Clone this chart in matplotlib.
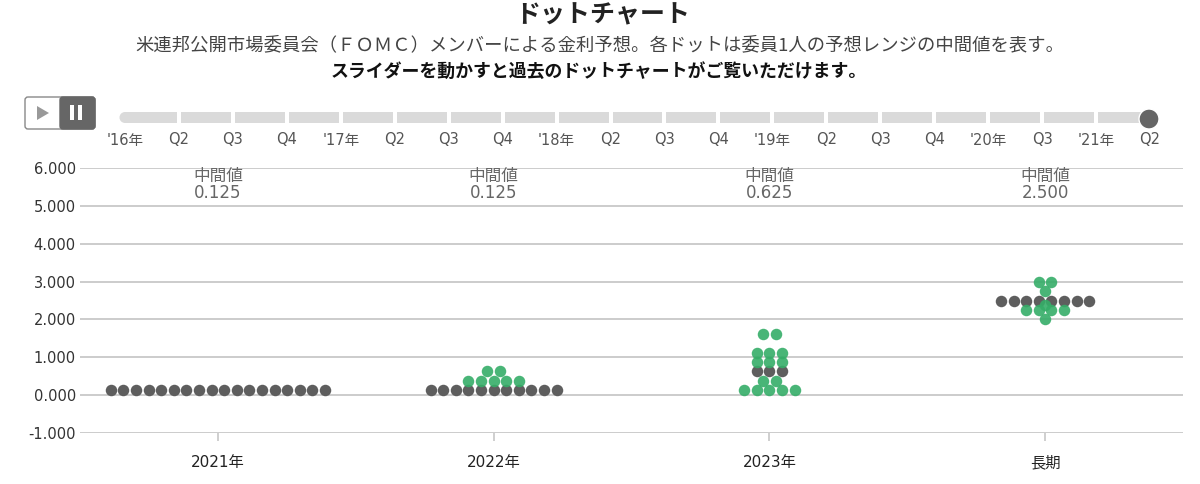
import numpy as np
import matplotlib
matplotlib.use("Agg")
import matplotlib.pyplot as plt
from matplotlib.patches import Rectangle, Circle, FancyBboxPatch, Polygon
from collections import Counter

plt.rcParams['font.family'] = ['Noto Sans CJK JP', 'DejaVu Sans']

# ---------------- data ----------------
categories = ["2021年", "2022年", "2023年", "長期"]
dots_2021 = [0.125] * 18
dots_2022 = [0.125] * 11 + [0.375] * 5 + [0.625] * 2
dots_2023 = [0.125] * 5 + [0.375] * 2 + [0.625] * 3 + [0.875] * 3 + [1.125] * 3 + [1.625] * 2
dots_long = [2.0] * 1 + [2.25] * 4 + [2.375] * 1 + [2.5] * 8 + [2.75] * 1 + [3.0] * 2
series = [dots_2021, dots_2022, dots_2023, dots_long]

y_ticks = [-1, 0, 1, 2, 3, 4, 5, 6]
slider_labels = ["'16年", "Q2", "Q3", "Q4", "'17年", "Q2", "Q3", "Q4", "'18年", "Q2",
                 "Q3", "Q4", "'19年", "Q2", "Q3", "Q4", "'20年", "Q3", "'21年", "Q2"]

title = "ドットチャート"
subtitle1 = "米連邦公開市場委員会（ＦＯＭＣ）メンバーによる金利予想。各ドットは委員1人の予想レンジの中間値を表す。"
subtitle2 = "スライダーを動かすと過去のドットチャートがご覧いただけます。"

# ---------------- style ----------------
W, H = 1200, 484
GRAY_DOT = "#5e5e5e"
GREEN_DOT = "#35ad68"
GRID = "#cccccc"

fig = plt.figure(figsize=(W / 100, H / 100), dpi=100)

ax_l, ax_r, ax_t, ax_b = 80, 1183, 168, 433
ax = fig.add_axes([ax_l / W, (H - ax_b) / H, (ax_r - ax_l) / W, (ax_b - ax_t) / H])
ax.set_xlim(-0.5, len(categories) - 0.5)
ax.set_ylim(-1, 6)
for s in ax.spines.values():
    s.set_visible(False)
for v in y_ticks:
    ax.axhline(v, color=GRID, lw=1.4, zorder=1)
ax.set_yticks(y_ticks)
ax.set_yticklabels([f"{v:.3f}" for v in y_ticks], fontsize=10.5, color="#333333",
                   family=['DejaVu Sans'])
ax.tick_params(axis='y', length=0, pad=3)
ax.set_xticks(range(len(categories)))
ax.set_xticklabels(categories, fontsize=11, color="#222222",
                   family=['DejaVu Sans', 'Noto Sans CJK JP'])
ax.tick_params(axis='x', length=6, width=1.3, color=GRID, pad=10)

band_px = (ax_r - ax_l) / len(categories)
spacing = 12.6 / band_px
dot_d_pt = 11.5 * 72 / 100
s_size = dot_d_pt ** 2

for i, vals in enumerate(series):
    med = float(np.median(vals))
    counts = Counter(vals)
    for v in sorted(counts):
        n = counts[v]
        xs = i + (np.arange(n) - (n - 1) / 2) * spacing
        ys = np.full(n, v)
        if v == med:
            ax.scatter(xs, ys, s=s_size, color=GRAY_DOT, linewidths=0, zorder=3)
        else:
            ax.scatter(xs, ys, s=s_size, color=GREEN_DOT, alpha=0.9, linewidths=0, zorder=4)
    ax.text(i, 5.78, "中間値", ha='center', va='center', fontsize=12, color="#666666")
    ax.text(i, 5.33, f"{med:.3f}", ha='center', va='center', fontsize=12, color="#666666",
            family=['DejaVu Sans'])

# ---------------- overlay (titles + slider) ----------------
ov = fig.add_axes([0, 0, 1, 1])
ov.set_xlim(0, W)
ov.set_ylim(H, 0)
ov.axis('off')
ov.patch.set_alpha(0)

ov.text(603, 15, title, ha='center', va='center', fontsize=18, fontweight='bold', color="#222222")
ov.text(600, 45, subtitle1, ha='center', va='center', fontsize=13.2, color="#444444")
ov.text(599, 72, subtitle2, ha='center', va='center', fontsize=12.9, fontweight='bold',
        color="#111111")

# play / pause buttons
ov.add_patch(FancyBboxPatch((25, 97), 70, 32, boxstyle="round,pad=0,rounding_size=3",
                            facecolor="white", edgecolor="#888888", lw=1))
ov.add_patch(FancyBboxPatch((60, 97), 35, 32, boxstyle="round,pad=0,rounding_size=3",
                            facecolor="#666666", edgecolor="#666666", lw=1))
ov.add_patch(Polygon([(37, 106), (37, 120), (49, 113)], closed=True, facecolor="#999999",
                     edgecolor="none"))
ov.add_patch(Rectangle((70, 105), 4, 15, facecolor="white", edgecolor="none"))
ov.add_patch(Rectangle((78, 105), 4, 15, facecolor="white", edgecolor="none"))

# slider
n_lab = len(slider_labels)
x0, x1 = 125, 1150
pos = np.linspace(x0, x1, n_lab)
ty, th = 117.5, 11
for k in range(n_lab - 1):
    a = pos[k] + (2 if k > 0 else 0)
    b = pos[k + 1] - 2
    ov.add_patch(Rectangle((a, ty - th / 2), b - a, th, facecolor="#dadada", edgecolor="none"))
ov.add_patch(Circle((pos[0], ty), th / 2, facecolor="#dadada", edgecolor="none"))
ov.add_patch(Circle((pos[-1] - 1, 119), 10, facecolor="#666666", edgecolor="white", lw=1))
for p, lab in zip(pos, slider_labels):
    ov.text(p, 140, lab, ha='center', va='center', fontsize=10.5, color="#555555",
            family=['DejaVu Sans', 'Noto Sans CJK JP'])

fig.savefig("out.png", dpi=100)
